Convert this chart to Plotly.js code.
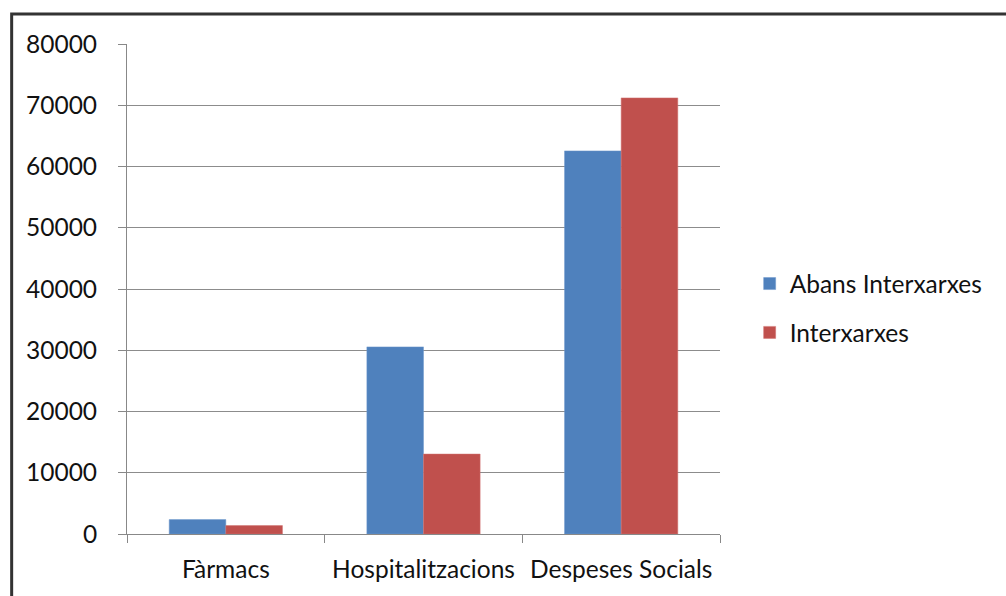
<!DOCTYPE html>
<html>
<head>
<meta charset="utf-8">
<script src="https://cdn.plot.ly/plotly-3.0.1.min.js"></script>
<style>html,body{margin:0;padding:0;background:#fff;}#chart{width:1006px;height:596px;}</style>
</head>
<body>
<div id="chart"></div>
<script>
const categories = ["Fàrmacs", "Hospitalitzacions", "Despeses Socials"];
const seriesNames = ["Abans Interxarxes", "Interxarxes"];
const abansValues = [2350, 30550, 62550];
const interxarxesValues = [1370, 13050, 71200];
const yTicks = [0, 10000, 20000, 30000, 40000, 50000, 60000, 70000, 80000];

const FONT = "Lato, 'Open Sans', sans-serif";
const FS = 24.5;
const traces = [
  {type: "bar", name: seriesNames[0], x: categories, y: abansValues, legendgroup: "a",
   marker: {color: "#4F81BD", line: {color: "#6E98CC", width: 0.5}}},
  {type: "bar", name: seriesNames[1], x: categories, y: interxarxesValues, legendgroup: "b",
   marker: {color: "#C0504D", line: {color: "#D07370", width: 0.5}}}
];
const layout = {
  width: 1006, height: 596,
  margin: {l: 127, r: 286, t: 44, b: 62},
  paper_bgcolor: "#fff", plot_bgcolor: "#fff",
  font: {family: FONT, size: FS, color: "#111"},
  barmode: "group", bargap: 0.427, bargroupgap: 0,
  showlegend: true,
  legend: {x: 1.05, y: 0.461, xanchor: "left", yanchor: "middle", traceorder: "grouped",
           tracegroupgap: 14, font: {family: FONT, size: FS, color: "#111"}, itemwidth: 30},
  xaxis: {type: "category", tickson: "boundaries", ticks: "outside", ticklen: 8, tickcolor: "#888",
          showline: true, linecolor: "#888", linewidth: 1, showgrid: false,
          ticklabelstandoff: 14, tickfont: {family: FONT, size: FS, color: "#111"}},
  yaxis: {range: [0, 80000], tickvals: yTicks, ticktext: yTicks.map(String), ticks: "outside", ticklen: 8,
          tickcolor: "#888", showline: true, linecolor: "#888", linewidth: 1,
          showgrid: true, gridcolor: "#8c8c8c", gridwidth: 1, zeroline: false,
          ticklabelstandoff: 16, tickfont: {family: FONT, size: FS, color: "#111"}},
  shapes: [
    {type: "rect", xref: "paper", yref: "paper", x0: -0.1945, x1: 1.6, y0: -0.2, y1: 1.0612,
     line: {color: "#333", width: 3}, fillcolor: "rgba(0,0,0,0)", layer: "below"}
  ]
};
Plotly.newPlot("chart", traces, layout, {displayModeBar: false, staticPlot: true});
</script>
</body>
</html>
